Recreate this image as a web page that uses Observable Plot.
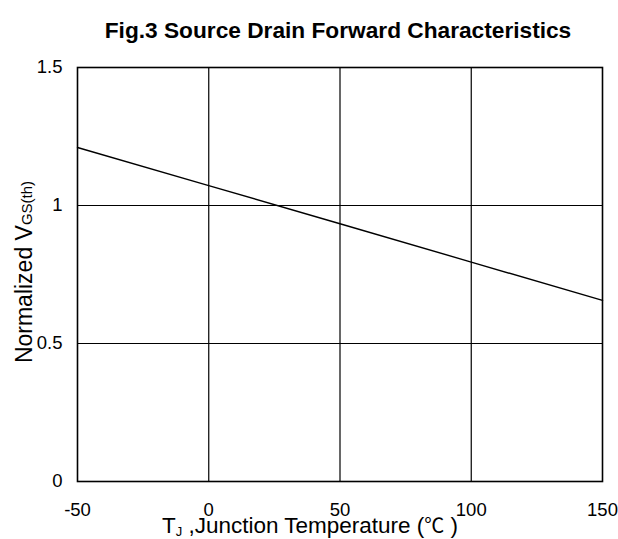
<!DOCTYPE html>
<html><head><meta charset="utf-8">
<script src="https://cdn.jsdelivr.net/npm/d3@7"></script>
<script src="https://cdn.jsdelivr.net/npm/@observablehq/plot@0.6"></script>
<style>
body{margin:0;background:#fff;font-family:"Liberation Sans",Arial,sans-serif;}
#title{box-sizing:border-box;height:48px;width:618px;padding-top:19px;padding-left:58px;text-align:center;font-weight:bold;font-size:22.7px;line-height:22px;color:#000;}
#chart svg{display:block;}
</style></head><body>
<div id="title">Fig.3 Source Drain Forward Characteristics</div>
<div id="chart"></div>
<script>
const temperatures = [-50, 0, 50, 100, 150];
const normVgs = [1.21, 1.072, 0.934, 0.795, 0.656];
const xTicks = [-50, 0, 50, 100, 150];
const yTicks = [0, 0.5, 1, 1.5];
const xGrid = [0, 50, 100];
const yGrid = [0.5, 1];

const data = temperatures.map((t, i) => ({t, v: normVgs[i]}));

const svg = Plot.plot({
  width: 618,
  height: 491,
  marginTop: 19,
  marginBottom: 58,
  marginLeft: 77,
  marginRight: 16,
  style: {fontFamily: '"Liberation Sans", Arial, sans-serif', background: "#fff", color: "#000"},
  x: {domain: [-50, 150]},
  y: {domain: [0, 1.5]},
  marks: [
    Plot.ruleX(xGrid, {stroke: "#000", strokeWidth: 1.2}),
    Plot.ruleY(yGrid, {stroke: "#000", strokeWidth: 1.2}),
    Plot.line(data, {x: "t", y: "v", stroke: "#000", strokeWidth: 1.4}),
    Plot.frame({stroke: "#000", strokeWidth: 1.6}),
    Plot.axisX({ticks: xTicks, tickSize: 0, tickPadding: 21, fontSize: 18.5, label: null, tickFormat: d => String(d)}),
    Plot.axisY({ticks: yTicks, tickSize: 0, tickPadding: 15, fontSize: 18.5, label: null, tickFormat: d => String(d)})
  ]
});
document.getElementById("chart").appendChild(svg);

const s = d3.select(svg);
const xl = s.append("text")
  .attr("x", 310).attr("y", 485)
  .attr("text-anchor", "middle")
  .attr("font-size", 22.5)
  .attr("fill", "#000");
xl.append("tspan").text("T");
xl.append("tspan").attr("font-size", 13).attr("dy", 3).text("J");
xl.append("tspan").attr("dy", -3).text(" ,Junction Temperature (");
xl.append("tspan").attr("font-family", '"Noto Sans CJK SC", sans-serif').attr("font-size", 20).text("℃");
xl.append("tspan").text(" )");

const yl = s.append("text")
  .attr("transform", "translate(32,224) rotate(-90)")
  .attr("text-anchor", "middle")
  .attr("font-size", 23)
  .attr("fill", "#000");
yl.append("tspan").text("Normalized V");
yl.append("tspan").attr("font-size", 15).text("GS(th)");
</script>
</body></html>
